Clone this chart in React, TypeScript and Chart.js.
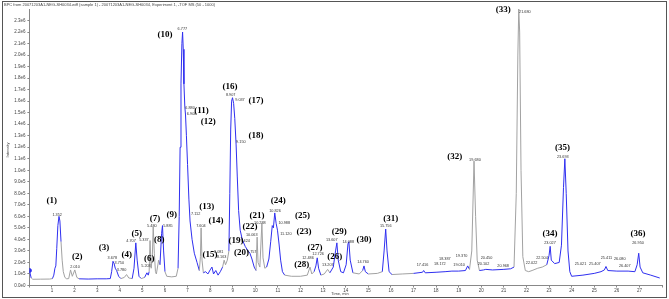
import React, { useEffect, useRef } from "react";
import { Chart, registerables } from "chart.js";

Chart.register(...registerables);

// Retention time (min)
const times = [
  0.0, 0.08, 0.15, 0.5, 0.9, 1.02, 1.08, 1.13, 1.17, 1.21, 1.26, 1.31, 1.35, 1.4, 1.45, 1.5, 1.57, 1.65,
  1.74, 1.82, 1.9, 2.01, 2.1, 2.2, 2.6, 3.0, 3.4, 3.58, 3.64, 3.7, 3.75, 3.8, 3.86, 3.95, 4.05, 4.2, 4.3,
  4.4, 4.55, 4.63, 4.71, 4.77, 4.85, 4.95, 5.1, 5.2, 5.26, 5.3, 5.34, 5.39, 5.44, 5.48, 5.53, 5.58, 5.62,
  5.72, 5.78, 5.85, 5.89, 5.94, 6.0, 6.08, 6.3, 6.5, 6.58, 6.63, 6.67, 6.71, 6.75, 6.78, 6.81, 6.84, 6.88,
  6.91, 6.95, 7.0, 7.06, 7.11, 7.2, 7.3, 7.42, 7.52, 7.57, 7.6, 7.64, 7.7, 7.8, 7.9, 8.0, 8.08, 8.15, 8.25,
  8.35, 8.45, 8.55, 8.62, 8.68, 8.76, 8.83, 8.87, 8.91, 8.95, 8.99, 9.04, 9.09, 9.15, 9.2, 9.26, 9.33, 9.42,
  9.55, 9.68, 9.76, 9.85, 9.95, 10.03, 10.08, 10.12, 10.2, 10.29, 10.34, 10.42, 10.5, 10.6, 10.68, 10.75,
  10.8, 10.86, 10.92, 10.98, 11.05, 11.12, 11.2, 11.3, 11.6, 12.0, 12.3, 12.42, 12.5, 12.6, 12.68, 12.74,
  12.8, 12.9, 13.05, 13.2, 13.3, 13.45, 13.55, 13.61, 13.67, 13.78, 13.9, 14.02, 14.1, 14.14, 14.2, 14.32,
  14.6, 14.75, 14.81, 14.87, 15.0, 15.4, 15.62, 15.7, 15.77, 15.83, 15.92, 16.05, 16.5, 17.0, 17.4, 17.45,
  17.52, 18.0, 18.4, 18.7, 19.0, 19.3, 19.4, 19.48, 19.58, 19.68, 19.75, 19.82, 19.92, 20.1, 20.2, 20.5,
  21.0, 21.3, 21.45, 21.55, 21.62, 21.66, 21.7, 21.76, 21.84, 21.95, 22.1, 22.25, 22.5, 22.7, 22.9, 23.0,
  23.05, 23.1, 23.25, 23.45, 23.55, 23.64, 23.7, 23.76, 23.84, 23.92, 24.0, 24.5, 25.0, 25.3, 25.45, 25.52,
  25.6, 26.0, 26.5, 26.8, 26.9, 26.97, 27.03, 27.15, 27.5, 27.9,
];

// Intensity (counts)
const intensity = [
  1.3e5, 6.5e4, 5.4e4, 5.5e4, 5.6e4, 6e4, 9e4, 1.5e5, 1.7e5, 3.2e5, 5.2e5, 6.0e5, 5.6e5, 3.8e5, 2.2e5, 1.2e5, 7e4, 5.8e4,
  6e4, 1.35e5, 8e4, 1.35e5, 7e4, 5.8e4, 5.6e4, 5.8e4, 5.8e4, 6e4, 1.2e5, 2.1e5, 1.9e5, 1.5e5, 1.3e5, 8e4, 6e4, 7e4, 9.5e4,
  6.5e4, 6e4, 1.5e5, 3.7e5, 2.2e5, 8e4, 6e4, 7e4, 1.1e5, 9e4, 1.2e5, 3.9e5, 1.5e5, 2.5e5, 5.1e5, 2.8e5, 1.2e5, 1.0e5,
  2.2e5, 1.8e5, 4.5e5, 5.2e5, 3.0e5, 1.2e5, 8e4, 7.5e4, 8e4, 1.5e5, 6e5, 1.2e6, 1.75e6, 2.1e6, 2.2e6, 2.05e6, 1.75e6, 1.55e6,
  1.48e6, 1.3e6, 1.05e6, 7.5e5, 5.6e5, 4.0e5, 2.8e5, 2.0e5, 1.3e5, 2.5e5, 5.0e5, 2.2e5, 1.1e5, 1.2e5, 1.0e5, 1.35e5, 1.6e5, 1.0e5, 1.3e5,
  9e4, 1.2e5, 1.6e5, 2.2e5, 1.8e5, 2.2e5, 3.0e5, 8e5, 1.35e6, 1.6e6, 1.63e6, 1.58e6, 1.45e6, 1.22e6, 9.5e5, 6.5e5, 4.8e5, 4.0e5,
  3.4e5, 3.0e5, 2.8e5, 2.3e5, 1.6e5, 1.3e5, 4.2e5, 2.0e5, 1.6e5, 5.4e5, 2.4e5, 1.5e5, 1.6e5, 2.3e5, 3.8e5, 5.2e5,
  5.0e5, 6.3e5, 5.4e5, 4.8e5, 3.6e5, 2.2e5, 1.2e5, 9e4, 8e4, 8e4, 9e4, 1.6e5, 1.0e5, 1.2e5, 1.7e5, 2.4e5,
  1.5e5, 9e4, 1.0e5, 1.4e5, 1.1e5, 1.6e5, 3.0e5, 3.7e5, 2.2e5, 1.2e5, 1.1e5, 1.8e5, 3.6e5, 3.8e5, 2.2e5, 1.1e5,
  1.0e5, 1.3e5, 1.7e5, 1.2e5, 1.0e5, 1.05e5, 1.2e5, 3.0e5, 4.9e5, 3.0e5, 1.2e5, 9.5e4, 1.0e5, 1.05e5, 1.15e5, 1.3e5,
  1.1e5, 1.15e5, 1.2e5, 1.25e5, 1.25e5, 1.3e5, 1.7e5, 1.4e5, 3.0e5, 1.08e6, 6e5, 2.2e5, 1.3e5, 1.35e5, 1.4e5, 1.35e5,
  1.4e5, 1.45e5, 1.6e5, 8e5, 2.0e6, 2.4e6, 2.2e6, 1.0e6, 2.5e5, 1.3e5, 1.2e5, 1.3e5, 1.5e5, 1.6e5, 1.8e5, 2.6e5,
  3.4e5, 2.2e5, 1.9e5, 2.0e5, 3.5e5, 8.5e5, 1.1e6, 8.0e5, 3.0e5, 1.2e5, 8e4, 9e4, 1.05e5, 1.2e5, 1.35e5, 1.65e5,
  1.3e5, 1.25e5, 1.25e5, 1.2e5, 1.8e5, 2.8e5, 1.6e5, 1.1e5, 9e4, 6.5e4,
];

// Time windows drawn in the highlight colour
const highlightStart = [0.0, 1.0, 2.2, 4.55, 5.15, 5.8, 6.55, 7.7, 8.85, 10.55, 12.6, 13.3, 14.7, 15.6, 17.0, 20.0, 22.85];
const highlightEnd = [0.1, 1.42, 4.0, 4.9, 5.28, 6.02, 7.52, 8.55, 10.04, 11.3, 12.9, 14.35, 14.95, 16.0, 19.45, 21.4, 27.95];

// Peak numbers: text, time, intensity anchor
const peakNames = [
  "(1)", "(2)", "(3)", "(4)", "(5)", "(6)", "(7)", "(8)", "(9)", "(10)", "(11)", "(12)",
  "(13)", "(14)", "(15)", "(16)", "(17)", "(18)", "(19)", "(20)", "(21)", "(22)", "(23)", "(24)",
  "(25)", "(26)", "(27)", "(28)", "(29)", "(30)", "(31)", "(32)", "(33)", "(34)", "(35)", "(36)",
];
const peakNameTimes = [
  0.99, 2.12, 3.3, 4.31, 4.75, 5.31, 5.56, 5.75, 6.3, 6.0, 7.62, 7.92,
  7.85, 8.26, 7.99, 8.88, 10.03, 10.03, 9.14, 9.39, 10.07, 9.76, 12.15, 11.01,
  12.09, 13.52, 12.64, 12.05, 13.71, 14.81, 15.99, 18.83, 20.97, 23.04, 23.6, 26.94,
];
const peakNameLevels = [
  7.37e5, 2.5e5, 3.32e5, 2.65e5, 4.48e5, 2.37e5, 5.76e5, 4.02e5, 6.13e5, 2.178e6, 1.52e6, 1.424e6,
  6.85e5, 5.63e5, 2.65e5, 1.726e6, 1.604e6, 1.3e6, 3.87e5, 2.83e5, 6.04e5, 5.09e5, 4.65e5, 7.35e5,
  6.04e5, 2.5e5, 3.32e5, 1.78e5, 4.68e5, 4.02e5, 5.84e5, 1.12e6, 2.396e6, 4.48e5, 1.193e6, 4.48e5,
];

// Retention-time annotations: text, time, intensity anchor
const rtTexts = [
  "1.352", "2.010", "3.678", "3.750", "3.780", "4.707", "5.203", "5.337", "5.480", "5.885", "6.777", "6.880",
  "6.900", "7.112", "7.604", "8.081", "8.163", "8.907", "9.037", "9.150", "9.424", "9.757", "10.063", "10.288",
  "10.826", "10.988", "11.120", "12.486", "12.726", "13.207", "13.607", "14.088", "14.760", "15.756", "17.416", "18.172",
  "18.387", "19.010", "19.370", "19.680", "20.102", "20.450", "20.968", "21.680", "22.022", "22.504", "23.027", "23.693",
  "25.021", "25.407", "25.411", "26.080", "26.407", "26.950",
];
const rtTimes = [
  1.23, 2.02, 3.67, 3.98, 4.08, 4.5, 5.16, 5.07, 5.42, 6.13, 6.77, 7.11,
  7.18, 7.36, 7.59, 8.38, 8.51, 8.91, 9.32, 9.36, 9.55, 9.84, 9.84, 10.2,
  10.87, 11.28, 11.35, 12.33, 12.78, 13.21, 13.38, 14.11, 14.77, 15.77, 17.4, 18.17,
  18.39, 19.02, 19.13, 19.72, 20.1, 20.23, 20.97, 21.93, 22.23, 22.69, 23.04, 23.61,
  24.39, 25.03, 25.54, 26.13, 26.35, 26.94,
];
const rtLevels = [
  6.1e5, 1.63e5, 2.37e5, 1.93e5, 1.35e5, 3.9e5, 1.7e5, 3.96e5, 5.2e5, 5.2e5, 2.23e6, 1.54e6,
  1.49e6, 6.19e5, 5.2e5, 2.94e5, 2.5e5, 1.65e6, 1.607e6, 1.248e6, 3.9e5, 2.89e5, 4.39e5, 5.46e5,
  6.48e5, 5.46e5, 4.48e5, 2.39e5, 2.74e5, 1.78e5, 3.96e5, 3.81e5, 2.07e5, 5.17e5, 1.78e5, 1.87e5,
  2.3e5, 1.78e5, 2.59e5, 1.09e6, 1.87e5, 2.39e5, 1.7e5, 2.378e6, 1.98e5, 2.37e5, 3.7e5, 1.117e6,
  1.87e5, 1.87e5, 2.37e5, 2.3e5, 1.7e5, 3.72e5,
];

const titleText =
  "BPC from 20071203A1-NEG-SH0034.wiff (sample 1) - 20071203A1-NEG-SH0034, Experiment 1, -TOF MS (50 - 1000)";
const xTitle = "Time, min";
const yTitle = "Intensity";

const BLUE = "#2f2ff0";
const GRAY = "#a2a2a2";

function isHighlighted(t: number) {
  for (let i = 0; i < highlightStart.length; i++) {
    if (t >= highlightStart[i] && t <= highlightEnd[i]) return true;
  }
  return false;
}

const overlayPlugin = {
  id: "overlay",
  beforeDraw(chart: any) {
    const ctx = chart.ctx;
    ctx.save();
    ctx.fillStyle = "#ffffff";
    ctx.fillRect(0, 0, chart.width, chart.height);
    ctx.restore();
  },
  afterDraw(chart: any) {
    const ctx = chart.ctx;
    const xs = chart.scales.x;
    const ys = chart.scales.y;
    ctx.save();
    // frame
    ctx.strokeStyle = "#555555";
    ctx.lineWidth = 1;
    ctx.strokeRect(2.5, 1.5, 664, 296);
    // title
    ctx.fillStyle = "#444444";
    ctx.font = "4px Arial";
    ctx.textAlign = "left";
    ctx.textBaseline = "middle";
    ctx.fillText(titleText, 4, 4.5);
    // x title
    ctx.font = "4px Arial";
    ctx.textAlign = "center";
    ctx.fillText(xTitle, 340, 293.5);
    // y title
    ctx.save();
    ctx.translate(8, 150);
    ctx.rotate(-Math.PI / 2);
    ctx.fillText(yTitle, 0, 0);
    ctx.restore();
    // retention time labels
    ctx.fillStyle = "#333333";
    ctx.font = "3.8px Arial";
    ctx.textAlign = "center";
    ctx.textBaseline = "middle";
    for (let i = 0; i < rtTexts.length; i++) {
      ctx.fillText(rtTexts[i], xs.getPixelForValue(rtTimes[i]), ys.getPixelForValue(rtLevels[i]));
    }
    // peak numbers
    ctx.fillStyle = "#000000";
    ctx.font = "bold 9px 'Liberation Serif', 'Times New Roman', serif";
    for (let i = 0; i < peakNames.length; i++) {
      ctx.fillText(peakNames[i], xs.getPixelForValue(peakNameTimes[i]), ys.getPixelForValue(peakNameLevels[i]));
    }
    ctx.restore();
  },
};

export default function App() {
  const ref = useRef<HTMLCanvasElement | null>(null);
  useEffect(() => {
    if (!ref.current) return;
    const data = times.map((t, i) => ({ x: t, y: intensity[i] }));
    const chart = new Chart(ref.current, {
      type: "line",
      data: {
        datasets: [
          {
            data,
            borderWidth: 1,
            borderColor: GRAY,
            tension: 0,
            pointRadius: (c: any) => (c.dataIndex === 0 ? 2 : 0),
            pointBackgroundColor: BLUE,
            pointBorderColor: BLUE,
            segment: {
              borderColor: (c: any) =>
                isHighlighted((c.p0.parsed.x + c.p1.parsed.x) / 2) ? BLUE : GRAY,
            },
          },
        ],
      },
      options: {
        animation: false,
        responsive: false,
        devicePixelRatio: 1,
        layout: { padding: { left: 0, top: 9, right: 7, bottom: 0 } },
        plugins: { legend: { display: false }, tooltip: { enabled: false } },
        scales: {
          x: {
            type: "linear",
            min: 0,
            max: 28,
            afterFit: (s: any) => {
              s.height = 13.5;
            },
            ticks: {
              stepSize: 1,
              autoSkip: false,
              maxRotation: 0,
              padding: 1,
              color: "#444",
              font: { size: 4.5, family: "Arial" },
              callback: (v: any) => (v >= 1 && v <= 27 ? String(v) : ""),
            },
            grid: { drawOnChartArea: false, drawTicks: true, tickLength: 2, color: "#888" },
            border: { display: true, color: "#888" },
          },
          y: {
            min: 0,
            max: 2.4e6,
            afterFit: (s: any) => {
              s.width = 29.4;
            },
            afterBuildTicks: (s: any) => {
              s.ticks = s.ticks.filter((t: any) => t.value <= 2.3e6 + 1);
            },
            ticks: {
              stepSize: 1e5,
              autoSkip: false,
              padding: 2,
              color: "#444",
              font: { size: 4.5, family: "Arial" },
              callback: (v: any) => Number(v).toExponential(1).replace("e+", "e"),
            },
            grid: { drawOnChartArea: false, drawTicks: true, tickLength: 2, color: "#888" },
            border: { display: true, color: "#888" },
          },
        },
      },
      plugins: [overlayPlugin],
    } as any);
    return () => chart.destroy();
  }, []);
  return (
    <div style={{ position: "fixed", left: 0, top: 0, width: 669, height: 299, background: "#fff" }}>
      <canvas ref={ref} width={669} height={299} style={{ display: "block" }} />
    </div>
  );
}
